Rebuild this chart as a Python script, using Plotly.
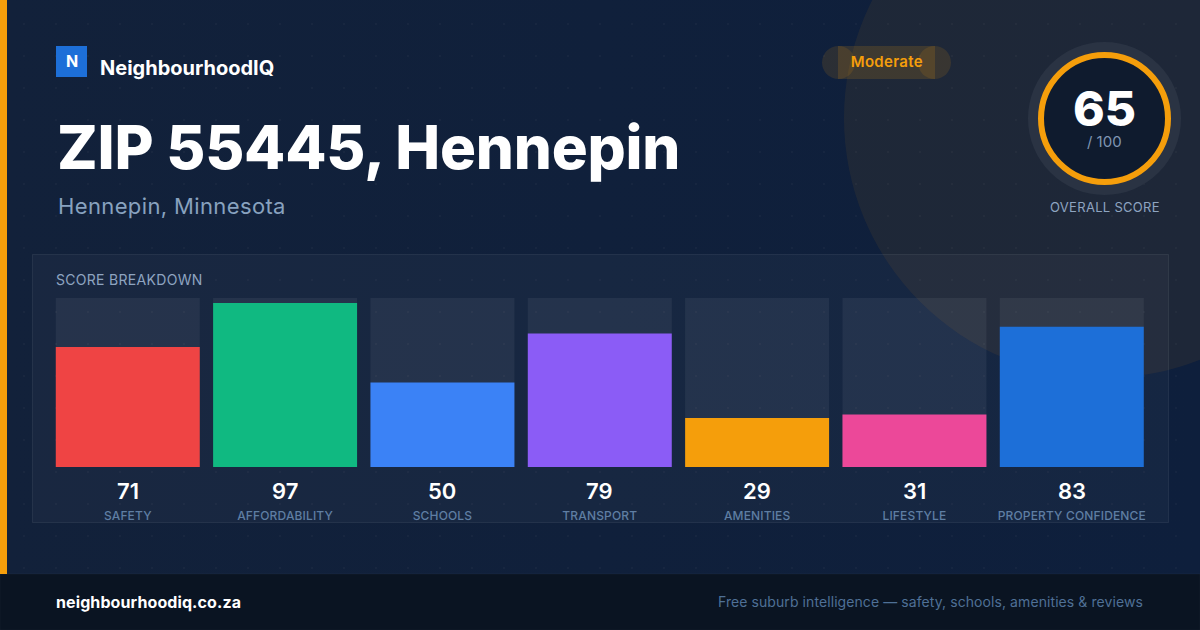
import plotly.graph_objects as go

W, H = 1200, 630

categories = ["SAFETY", "AFFORDABILITY", "SCHOOLS", "TRANSPORT", "AMENITIES", "LIFESTYLE", "PROPERTY CONFIDENCE"]
scores = [71, 97, 50, 79, 29, 31, 83]
track = [100, 100, 100, 100, 100, 100, 100]
bar_colors = ["#ef4444", "#10b981", "#3b82f6", "#8b5cf6", "#f59e0b", "#ec4899", "#1d6fd8"]

INTER = "Inter"
AMBER = "#f59e0b"


def px(x):
    return x / W


def py(y):
    return 1 - y / H


def rect(x0, y0, x1, y1, fill, line=None, kind="rect", width=1):
    return dict(type=kind, xref="paper", yref="paper", layer="below",
                x0=px(x0), x1=px(x1), y0=py(y0), y1=py(y1), fillcolor=fill,
                line=dict(color=line or "rgba(0,0,0,0)", width=width if line else 0))


def label(text, x, y, size, color, weight=400, anchor="left"):
    # annotations carry a 2px border box, so pull the text back onto x
    nudge = {"left": -2, "right": 2, "center": 0}[anchor]
    return dict(text=text, x=px(x + nudge), y=py(y), xref="paper", yref="paper", xanchor=anchor, yanchor="middle",
                showarrow=False, font=dict(family=INTER, size=size, color=color, weight=weight))


# background gradient and faint dot grid
bg_svg = (
    "data:image/svg+xml;utf8,<svg xmlns='http://www.w3.org/2000/svg' width='1200' height='630'>"
    "<defs><linearGradient id='g' x1='0' y1='0' x2='1' y2='0'>"
    "<stop offset='0' stop-color='%2312213a'/><stop offset='1' stop-color='%230e1f3c'/></linearGradient>"
    "<pattern id='d' x='8' y='8' width='32' height='32' patternUnits='userSpaceOnUse'>"
    "<circle cx='16' cy='16' r='1' fill='white' fill-opacity='0.035'/></pattern></defs>"
    "<rect width='1200' height='630' fill='url(%23g)'/>"
    "<rect width='1200' height='630' fill='url(%23d)'/></svg>"
)

shapes = [
    rect(844, -142, 1364, 378, "rgba(245,158,11,0.07)", kind="circle"),
    rect(0, 0, 7, H, AMBER),
    rect(0, 574, W, H, "#0a1422", line="rgba(255,255,255,0.03)"),
    rect(32.5, 254.5, 1168.5, 522.5, "rgba(255,255,255,0.03)", line="rgba(255,255,255,0.07)"),
    rect(56, 46, 87, 77, "#1d6fd8"),
    rect(838, 46, 935, 79, "rgba(245,158,11,0.15)"),
    rect(822, 46, 855, 79, "rgba(245,158,11,0.12)", kind="circle"),
    rect(918, 46, 951, 79, "rgba(245,158,11,0.12)", kind="circle"),
    rect(1028, 42, 1181, 195, "#2a3343", kind="circle"),
    rect(1041, 55, 1168, 182, "#0f1b2e", line=AMBER, kind="circle", width=6),
]

annotations = [
    label("N", 71.5, 61, 16, "#ffffff", 700, "center"),
    label("NeighbourhoodIQ", 100, 68, 20, "#ffffff", 700),
    label("ZIP 55445, Hennepin", 57, 146.5, 60, "#ffffff", 800),
    label("Hennepin, Minnesota", 58, 206, 22, "#88a2bf", 400),
    label("Moderate", 886.5, 62, 15, AMBER, 600, "center"),
    label("65", 1104, 108, 48, "#ffffff", 800, "center"),
    label("/ 100", 1104.5, 141, 15, "#7f95b2", 400, "center"),
    label("OVERALL SCORE", 1104.5, 207.5, 13, "#8ea4c0", 400, "center"),
    label("SCORE BREAKDOWN", 56, 279, 14, "#8ea4c0", 400),
    label("neighbourhoodiq.co.za", 56, 601.5, 16, "#ffffff", 700),
    label("Free suburb intelligence \u2014 safety, schools, amenities &amp; reviews", 1143, 601, 14, "#4f7096", 400, "right"),
]

# score values sit under each bar
for cat, score in zip(categories, scores):
    annotations.append(dict(text=str(score), x=cat, y=py(491), xref="x", yref="paper", yanchor="middle",
                            showarrow=False, font=dict(family=INTER, size=22, color="#ffffff", weight=600)))

fig = go.Figure()
fig.add_bar(x=categories, y=track, width=0.915, marker=dict(color="rgba(255,255,255,0.06)", line_width=0),
            hoverinfo="skip", showlegend=False)
fig.add_bar(x=categories, y=scores, width=0.915, marker=dict(color=bar_colors, line_width=0), showlegend=False)

fig.update_layout(
    width=W, height=H, margin=dict(l=0, r=0, t=0, b=0, pad=0),
    barmode="overlay", paper_bgcolor="#112039", plot_bgcolor="rgba(0,0,0,0)",
    shapes=shapes, annotations=annotations,
    images=[dict(source=bg_svg, xref="paper", yref="paper", x=0, y=1, sizex=1, sizey=1,
                 xanchor="left", yanchor="top", sizing="stretch", layer="below")],
)
fig.update_xaxes(domain=[px(49.1), px(1150.45)], range=[-0.5, 6.5], type="category", categoryorder="array",
                 categoryarray=categories, showgrid=False, zeroline=False, showline=False, ticks="outside",
                 ticklen=38, tickcolor="rgba(0,0,0,0)", tickangle=0,
                 tickfont=dict(family=INTER, size=12, color="#5f7ea3", weight=500))
fig.update_yaxes(domain=[py(467), py(298)], range=[0, 100], visible=False)

# page margin off; plotly has no letter spacing, so set it on the drawn text and keep left/right edges in place
post = """
document.body.style.margin = '0';
document.body.style.overflow = 'hidden';
var spacing = {'ZIP 55445, Hennepin': [-0.2, 'l'], 'Hennepin, Minnesota': [0.37, 'l'], 'SCORE BREAKDOWN': [0.3, 'l'],
  'OVERALL SCORE': [0.3, 'c'], 'neighbourhoodiq.co.za': [0.1, 'l'], 'Moderate': [0.3, 'c'],
  'PROPERTY CONFIDENCE': [0.15, 'c'], 'AFFORDABILITY': [0.15, 'c'], 'TRANSPORT': [0.15, 'c'], 'SCHOOLS': [0.15, 'c'],
  'AMENITIES': [0.15, 'c'], 'LIFESTYLE': [0.15, 'c'], 'SAFETY': [0.15, 'c']};
spacing['Free suburb intelligence \\u2014 safety, schools, amenities & reviews'] = [0.08, 'r'];
document.querySelectorAll('text').forEach(function (t) {
  var s = spacing[t.textContent];
  if (!s) return;
  var before = t.getBoundingClientRect();
  t.style.letterSpacing = s[0] + 'px';
  var after = t.getBoundingClientRect();
  var shift = s[1] == 'l' ? before.left - after.left : s[1] == 'r' ? before.right - after.right : 0;
  t.setAttribute('x', parseFloat(t.getAttribute('x') || 0) + shift);
});
"""
fig.write_html("out.html", config=dict(displayModeBar=False), post_script=post)
